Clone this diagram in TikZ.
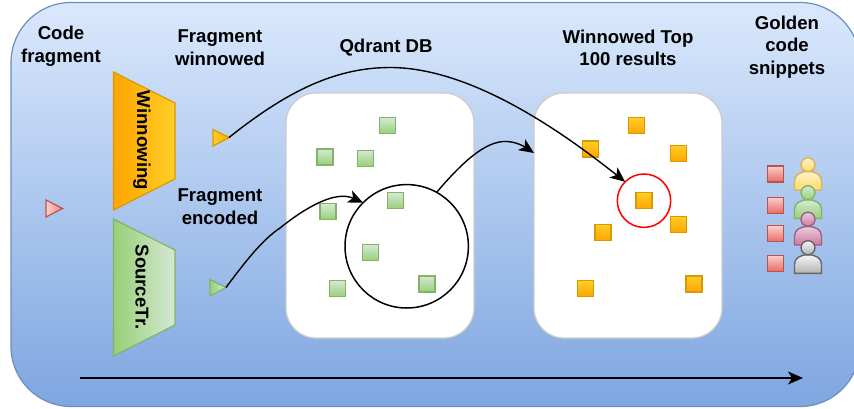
\documentclass[tikz,border=0pt]{standalone}
\usepackage{fontspec}
\setmainfont{Liberation Sans}
\usetikzlibrary{arrows.meta}
\definecolor{panelA}{HTML}{DAE8FC}\definecolor{panelB}{HTML}{7EA6E0}\definecolor{panelS}{HTML}{6C8EBF}
\definecolor{orgA}{HTML}{FFA500}\definecolor{orgB}{HTML}{FFCD28}\definecolor{orgS}{HTML}{D79B00}
\definecolor{grnA}{HTML}{97D077}\definecolor{grnB}{HTML}{D5E8D4}\definecolor{grnS}{HTML}{82B366}
\definecolor{redA}{HTML}{F8CECC}\definecolor{redB}{HTML}{EA6B66}\definecolor{redS}{HTML}{B85450}
\definecolor{yelA}{HTML}{FFF2CC}\definecolor{yelB}{HTML}{FFD966}\definecolor{yelS}{HTML}{D6B656}
\definecolor{pnkA}{HTML}{E6D0DE}\definecolor{pnkB}{HTML}{D5739D}\definecolor{pnkS}{HTML}{996185}
\definecolor{gryA}{HTML}{F5F5F5}\definecolor{gryB}{HTML}{B3B3B3}\definecolor{gryS}{HTML}{666666}
\definecolor{cardS}{HTML}{CCCCCC}
\tikzset{
  label text/.style={font=\fontsize{18.6}{22.7}\selectfont\bfseries,align=center,inner sep=0pt,text=black},
  card/.style={draw=cardS,line width=1.2pt,fill=white,rounded corners=30pt},
  gsq/.style={draw=grnS,line width=1.3pt,top color=grnB,bottom color=grnA,minimum size=16pt,inner sep=0pt,outer sep=0pt},
  osq/.style={draw=orgS,line width=1.3pt,top color=orgB,bottom color=orgA,minimum size=16pt,inner sep=0pt,outer sep=0pt},
  rsq/.style={draw=redS,line width=1.3pt,top color=redA,bottom color=redB,minimum size=16pt,inner sep=0pt,outer sep=0pt},
  ring/.style={draw=black,line width=1.5pt,circle,inner sep=0pt,outer sep=0pt},
  conn/.style={draw=black,line width=1.4pt,-{Stealth[length=15pt,width=13pt,inset=4pt]}},
  pyel/.style={draw=yelS,line width=1.4pt,top color=yelA,bottom color=yelB},
  pgrn/.style={draw=grnS,line width=1.4pt,top color=grnB,bottom color=grnA},
  ppnk/.style={draw=pnkS,line width=1.4pt,top color=pnkA,bottom color=pnkB},
  pgry/.style={draw=gryS,line width=1.4pt,top color=gryA,bottom color=gryB},
}
\begin{document}
\begin{tikzpicture}[x=1pt,y=-1pt]
\useasboundingbox (0,0) rectangle (854,409);
% panel
\draw[draw=panelS,line width=1.2pt,top color=panelA,bottom color=panelB,rounded corners=60pt]
  (11,2.5) rectangle (860,406.5);
% trapezoids
\draw[draw=orgS,line width=1.2pt,left color=orgA,right color=orgB]
  (113.5,72) -- (175,103) -- (175,179) -- (113.5,210) -- cycle;
\draw[draw=grnS,line width=1.2pt,left color=grnA,right color=grnB]
  (113.5,219) -- (175,250) -- (175,325) -- (113.5,356) -- cycle;
\node[label text,rotate=-90] (winn) at (142,140.5) {Winnowing};
\node[label text,rotate=-90] (srctr) at (142,287) {SourceTr.};
% triangles
\draw[draw=redS,line width=1.2pt,left color=redA,right color=redB!70!redA] (46,200) -- (62.5,208.5) -- (46,217) -- cycle;
\draw[draw=orgS,line width=1.2pt,left color=orgB,right color=orgA] (213,129.5) -- (229.5,137.5) -- (213,146) -- cycle;
\draw[draw=grnS,line width=1.2pt,left color=grnA,right color=grnB] (210,279.5) -- (226,287.5) -- (210,296) -- cycle;
\coordinate (yeltip) at (229,137.5);
\coordinate (grntip) at (226,287.5);
% cards
\draw[card] (286,93) rectangle (474,338);
\draw[card] (534,93) rectangle (722,338);
% green squares
\node[gsq] (g1) at (387.7,125.7) {};
\node[gsq] (g2) at (325,157) {};
\node[gsq] (g3) at (365.7,158.3) {};
\node[gsq] (g4) at (328,211.7) {};
\node[gsq] (g5) at (395.7,200.7) {};
\node[gsq] (g6) at (370.3,252.7) {};
\node[gsq] (g7) at (337.3,288.7) {};
\node[gsq] (g8) at (427,284) {};
% orange squares
\node[osq] (o1) at (636.3,125.7) {};
\node[osq] (o2) at (590.3,149) {};
\node[osq] (o3) at (678.7,153.7) {};
\node[osq] (o4) at (644,200.7) {};
\node[osq] (o5) at (678.7,224.3) {};
\node[osq] (o6) at (603,232.3) {};
\node[osq] (o7) at (585.7,288.7) {};
\node[osq] (o8) at (694,284) {};
% circles
\node[ring,minimum size=123.4pt] (big) at (406.7,246.3) {};
\node[ring,draw=red,minimum size=53.4pt] (redring) at (644,200.7) {};
% connectors
\draw[conn] (yeltip) .. controls (280,97) and (330,67.5) .. (390,67.5)
  .. controls (470,67.5) and (560,130) .. (redring.135);
\draw[conn] (grntip) .. controls (245,262) and (262,240) .. (280,228)
  .. controls (305,208) and (335,190) .. (big.135);
\coordinate (cardin) at (534,153);
\draw[conn] (big.61) .. controls (460,165) and (485,140) .. (507,141.5)
  .. controls (517,142) and (525,147) .. (cardin);
\coordinate (ts) at (80,378);
\coordinate (te) at (803,378);
\draw[conn] (ts) -- (te);
% red squares
\node[rsq] (r1) at (775.7,174) {};
\node[rsq] (r2) at (775.7,205.3) {};
\node[rsq] (r3) at (775.7,233.7) {};
\node[rsq] (r4) at (775.7,263.3) {};
% people
\foreach \hy/\by/\st in {164.7/190/pyel,192.7/218.3/pgrn,219.3/245/ppnk,247.7/273.3/pgry}{
  \draw[\st] (794.5,\by) -- (794.5,\by-9) .. controls (794.5,\by-15) and (800,\by-18.5) .. (808,\by-18.5)
    .. controls (816,\by-18.5) and (821.5,\by-15) .. (821.5,\by-9) -- (821.5,\by) -- cycle;
  \draw[\st] (808,\hy) circle (7);
}
% labels
\node[label text] (t1) at (61,46.5) {Code\\fragment};
\node[label text] (t2) at (220,48) {Fragment\\winnowed};
\node[label text] (t3) at (386,48) {Qdrant DB};
\node[label text] (t4) at (220,207) {Fragment\\encoded};
\node[label text] (t5) at (628,48) {Winnowed Top\\100 results};
\node[label text] (t6) at (787,47) {Golden\\code\\snippets};
\end{tikzpicture}
\end{document}
